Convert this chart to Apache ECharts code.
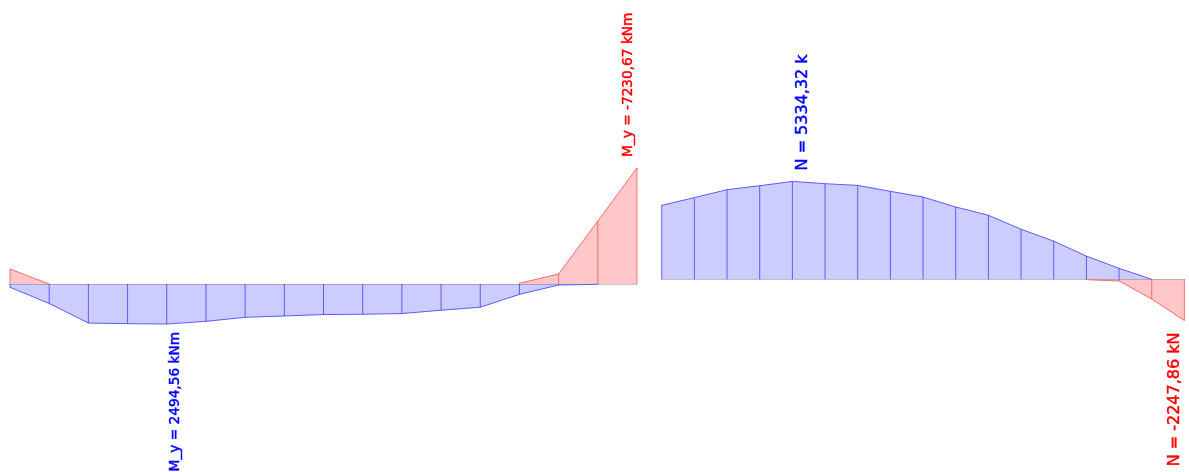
<!DOCTYPE html>
<html><head><meta charset="utf-8">
<script src="https://cdn.jsdelivr.net/npm/echarts@6/dist/echarts.min.js"></script>
<style>html,body{margin:0;padding:0;background:#fff}#c{width:1189px;height:472px}</style>
</head><body><div id="c"></div>
<script>
// Stations along each member (element ends)
const stations = [0,1,2,3,4,5,6,7,8,9,10,11,12,13,14,15,16];
// Bending moment M_y [kNm] (positive drawn below, negative above)
const myPositive = [207,1213,2432,2470,2494.56,2325,2074,1992,1904,1885,1841,1634,1445,647,63,19,null];
const myNegative = [-935,0,null,null,null,null,null,null,null,null,null,null,null,-45,-623,-3925,-7230.67];
// Axial force N [kN] (positive drawn above, negative below)
const nPositive = [4032,4450,4884,5101,5334.32,5210,5118,4792,4483,3940,3490,2730,2079,1265,597,0,null];
const nNegative = [null,null,null,null,null,null,null,null,null,null,null,null,null,-20,-92,-1075,-2247.86];
// Extreme value labels
const labelTexts = ['M_y = -7230,67 kNm','M_y = 2494,56 kNm','N = 5334,32 k','N = -2247,86 kN'];

const BLUE_FILL='rgba(0,0,255,0.2)', BLUE_LINE='#5a5aff', BLUE_STEM='rgba(30,30,255,0.65)';
const RED_FILL='rgba(255,0,0,0.22)', RED_LINE='#ff6a6a', RED_STEM='rgba(255,40,40,0.6)';

function pairs(vals){ return stations.map((s,i)=>[s, vals[i]]); }
function area(xi, vals, line, fill){
  return {type:'line', xAxisIndex:xi, yAxisIndex:xi, data:pairs(vals), symbol:'none', silent:true,
    connectNulls:false, lineStyle:{color:line,width:1}, areaStyle:{color:fill,opacity:1}, z:2, animation:false};
}
function stems(xi, vals, color){
  return {type:'custom', xAxisIndex:xi, yAxisIndex:xi, silent:true, z:3, animation:false,
    data:pairs(vals).filter(d=>d[1]!=null && d[1]!==0),
    renderItem:(p, api)=>{
      const a=api.coord([api.value(0),0]), b=api.coord([api.value(0),api.value(1)]);
      return {type:'line', shape:{x1:a[0],y1:a[1],x2:b[0],y2:b[1]}, style:{stroke:color,lineWidth:1}};
    }};
}
const sM=62.3, baseM=284, sN=54.5, baseN=279.3, H=472;
const hiddenY = {type:'value', show:false, splitLine:{show:false}};
const xAx = (gi)=>({type:'value', gridIndex:gi, min:0, max:16, axisLine:{show:true,onZero:true,lineStyle:{color:'#c8c8c8',width:1}},
  axisTick:{show:false}, axisLabel:{show:false}, splitLine:{show:false}});

const chart = echarts.init(document.getElementById('c'), null, {renderer:'canvas'});
chart.setOption({
  animation:false,
  backgroundColor:'#fff',
  grid:[{left:10, width:627, top:0, height:H}, {left:661.7, width:522.7, top:0, height:H}],
  xAxis:[xAx(0), xAx(1)],
  yAxis:[
    Object.assign({gridIndex:0, inverse:true, min:-baseM*sM, max:(H-baseM)*sM}, hiddenY),
    Object.assign({gridIndex:1, min:-(H-baseN)*sN, max:baseN*sN}, hiddenY)
  ],
  series:[
    area(0, myPositive, BLUE_LINE, BLUE_FILL),
    area(0, myNegative, RED_LINE, RED_FILL),
    stems(0, myPositive, BLUE_STEM),
    stems(0, myNegative, RED_STEM),
    area(1, nPositive, BLUE_LINE, BLUE_FILL),
    area(1, nNegative, RED_LINE, RED_FILL),
    stems(1, nPositive, BLUE_STEM),
    stems(1, nNegative, RED_STEM)
  ]
});

const pMneg = chart.convertToPixel({gridIndex:0}, [16, myNegative[16]]);
const pMpos = chart.convertToPixel({gridIndex:0}, [4, myPositive[4]]);
const pNpos = chart.convertToPixel({gridIndex:1}, [4, nPositive[4]]);
const pNneg = chart.convertToPixel({gridIndex:1}, [16, nNegative[16]]);
function vtext(x, y, txt, color, size, align){
  return {type:'text', x:x, y:y, rotation:Math.PI/2, silent:true, z:10,
    style:{text:txt, fill:color, stroke:color, lineWidth:0.45, font:size+'px "DejaVu Sans"', align:align, verticalAlign:'middle'}};
}
chart.setOption({graphic:[
  vtext(pMneg[0]-9, pMneg[1]-11, labelTexts[0], '#ff0000', 13.7, 'left'),
  vtext(pMpos[0]+9, pMpos[1]+8, labelTexts[1], '#0000ff', 13.7, 'right'),
  vtext(pNpos[0]+10, pNpos[1]-11, labelTexts[2], '#0000ff', 16, 'left'),
  vtext(pNneg[0]-10, pNneg[1]+12, labelTexts[3], '#ff0000', 16, 'right')
]});
</script></body></html>
